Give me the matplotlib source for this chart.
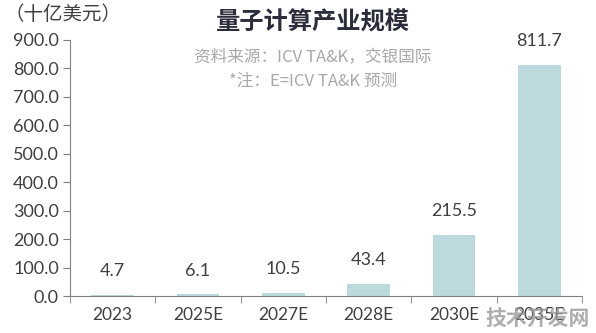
import matplotlib.pyplot as plt

plt.rcParams['font.family'] = ['Lato', 'Noto Sans CJK SC', 'DejaVu Sans']

years = ["2023", "2025E", "2027E", "2028E", "2030E", "2035E"]
market_size = [4.7, 6.1, 10.5, 43.4, 215.5, 811.7]
y_ticks = [0, 100, 200, 300, 400, 500, 600, 700, 800, 900]

text_color = "#404040"

figure, axis = plt.subplots(figsize=(5.96, 3.33), dpi=100)
figure.subplots_adjust(left=0.1174, right=0.9765, bottom=0.111, top=0.88)

positions = range(len(years))
axis.bar(positions, market_size, width=0.5, color="#bcdadd")

# value labels sit a fixed distance above each bar
for x, value in zip(positions, market_size):
    axis.annotate(f"{value:.1f}", (x, value), xytext=(0, 17), textcoords="offset points",
                  ha="center", va="center", fontsize=13, color=text_color)

axis.set_xlim(-0.5, len(years) - 0.5)
axis.set_ylim(0, 900)
axis.set_yticks(y_ticks)
axis.set_yticklabels([f"{t:.1f}" for t in y_ticks], fontsize=13, color=text_color)
axis.set_xticks(positions)
axis.set_xticklabels(years, fontsize=12.5, color=text_color)
axis.set_xticks([p + 0.5 for p in range(-1, len(years))], minor=True)
axis.tick_params(axis="x", which="major", length=0, pad=8)
axis.tick_params(axis="x", which="minor", length=5, color="#808080")
axis.tick_params(axis="y", length=5, color="#808080", pad=3)

for side in ["top", "right"]:
    axis.spines[side].set_visible(False)
for side in ["left", "bottom"]:
    axis.spines[side].set_color("#808080")

figure.text(0.008, 0.955, "（十亿美元）", fontsize=14, color=text_color,
            family=["Noto Sans CJK SC"], va="center", ha="left")
figure.text(0.525, 0.932, "量子计算产业规模", fontsize=17.5, fontweight="bold",
            color="#2b2d3a", family=["Noto Sans CJK SC"], ha="center", va="center")
figure.text(0.525, 0.825, "资料来源：ICV TA&K，交银国际", fontsize=12, color="#a8a8a8",
            family=["Noto Sans CJK SC"], ha="center", va="center")
figure.text(0.525, 0.755, "*注：E=ICV TA&K 预测", fontsize=12, color="#a8a8a8",
            family=["Noto Sans CJK SC"], ha="center", va="center")

# watermark in the bottom-right corner
figure.text(0.99, 0.045, "技术开发网", fontsize=15, fontweight="bold", color="#9a9a9a",
            alpha=0.8, family=["Noto Sans CJK SC"], ha="right", va="center")

plt.savefig("out.png", dpi=100)
